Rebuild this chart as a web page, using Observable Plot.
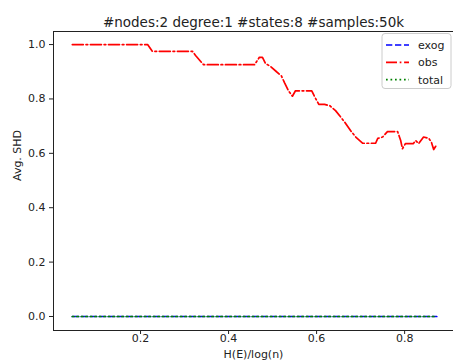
<!DOCTYPE html>
<html>
<head>
<meta charset="utf-8">
<script src="https://cdn.jsdelivr.net/npm/d3@7"></script>
<script src="https://cdn.jsdelivr.net/npm/@observablehq/plot@0.6"></script>
<style>
  html, body { margin: 0; padding: 0; background: white; }
</style>
</head>
<body>
<div id="chart"></div>
<script>
const title = "#nodes:2 degree:1 #states:8 #samples:50k";
const xLabel = "H(E)/log(n)";
const yLabel = "Avg. SHD";
const seriesNames = ["exog", "obs", "total"];
const xTicks = [0.2, 0.4, 0.6, 0.8];
const yTicks = [0.0, 0.2, 0.4, 0.6, 0.8, 1.0];

const obsX = [0.045, 0.216, 0.227, 0.318, 0.325, 0.343, 0.459, 0.470, 0.477, 0.484, 0.495, 0.509, 0.520, 0.527, 0.536, 0.545, 0.552, 0.589, 0.595, 0.605, 0.618, 0.630, 0.643, 0.655, 0.666, 0.677, 0.689, 0.705, 0.734, 0.739, 0.750, 0.761, 0.784, 0.791, 0.795, 0.802, 0.820, 0.825, 0.832, 0.843, 0.855, 0.861, 0.866, 0.873];
const obsY = [1.0, 1.0, 0.975, 0.975, 0.96, 0.926, 0.926, 0.953, 0.953, 0.93, 0.92, 0.90, 0.885, 0.86, 0.83, 0.81, 0.83, 0.83, 0.81, 0.78, 0.78, 0.775, 0.757, 0.733, 0.71, 0.684, 0.66, 0.637, 0.637, 0.655, 0.66, 0.68, 0.68, 0.647, 0.617, 0.636, 0.636, 0.647, 0.636, 0.66, 0.655, 0.64, 0.614, 0.632];
const exogX = [0.045, 0.873];
const exogY = [0.0, 0.0];
const totalX = [0.045, 0.873];
const totalY = [0.0, 0.0];

const colors = {exog: "#0000ff", obs: "#ff0000", total: "#008000"};
const dashes = {exog: "6.3,2.7", obs: "11,2.7,1.7,2.7", total: "1.7,2.8"};

const toRows = (xs, ys) => xs.map((x, i) => ({x, y: ys[i]}));
const exogData = toRows(exogX, exogY);
const obsData = toRows(obsX, obsY);
const totalData = toRows(totalX, totalY);

const xDomain = [0.00227, 0.911];
const yDomain = [-0.0515, 1.048];
const ink = "#222";

const chart = Plot.plot({
  width: 453,
  height: 364,
  marginLeft: 53,
  marginRight: 0,
  marginTop: 31,
  marginBottom: 34,
  style: {fontFamily: "'DejaVu Sans', sans-serif", fontSize: "11px", color: ink, background: "white"},
  x: {domain: xDomain},
  y: {domain: yDomain},
  marks: [
    Plot.ruleX([xDomain[0]], {stroke: ink, strokeWidth: 1}),
    Plot.ruleY([yDomain[0], yDomain[1]], {stroke: ink, strokeWidth: 1}),
    Plot.axisX({ticks: xTicks, tickFormat: d3.format(".1f"), tickSize: 4, tickPadding: 0, label: null, stroke: ink}),
    Plot.axisY({ticks: yTicks, tickFormat: d3.format(".1f"), tickSize: 4, tickPadding: 4, label: null, stroke: ink}),
    Plot.line(exogData, {x: "x", y: "y", stroke: colors.exog, strokeWidth: 1.7, strokeDasharray: dashes.exog}),
    Plot.line(obsData, {x: "x", y: "y", stroke: colors.obs, strokeWidth: 1.7, strokeDasharray: dashes.obs}),
    Plot.line(totalData, {x: "x", y: "y", stroke: colors.total, strokeWidth: 1.7, strokeDasharray: dashes.total}),
    Plot.text([title], {frameAnchor: "top", dy: -14, fontSize: 13.5, fill: ink}),
    Plot.text([xLabel], {frameAnchor: "bottom", dy: 27, fontSize: 11, fill: ink}),
    Plot.text([yLabel], {frameAnchor: "left", dx: -36, rotate: -90, fontSize: 11, fill: ink})
  ]
});

// legend
const svg = d3.select(chart);
const lg = svg.append("g");
lg.append("rect").attr("x", 382).attr("y", 33.5).attr("width", 69).attr("height", 55).attr("rx", 3)
  .attr("fill", "white").attr("fill-opacity", 0.8).attr("stroke", "#cccccc");
seriesNames.forEach((name, i) => {
  const yy = 45 + i * 17.3;
  lg.append("line").attr("x1", 386).attr("x2", 409).attr("y1", yy).attr("y2", yy)
    .attr("stroke", colors[name]).attr("stroke-width", 1.7).attr("stroke-dasharray", dashes[name]);
  lg.append("text").attr("x", 418).attr("y", yy + 4).attr("font-size", 11)
    .attr("text-anchor", "start")
    .attr("font-family", "'DejaVu Sans', sans-serif").attr("fill", ink).text(name);
});

document.getElementById("chart").appendChild(chart);
</script>
</body>
</html>
